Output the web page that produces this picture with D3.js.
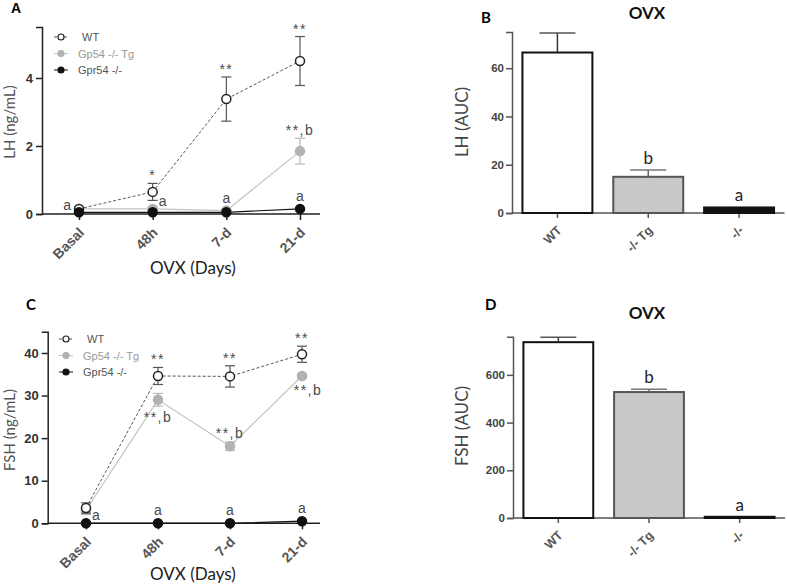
<!DOCTYPE html>
<html><head><meta charset="utf-8">
<script src="https://cdn.jsdelivr.net/npm/d3@7"></script>
<style>
body{margin:0;background:#fff}
svg text{font-family:"Liberation Sans",Arial,sans-serif}
svg .cal{font-family:Lato,"Open Sans",sans-serif}
</style></head><body>
<svg id="fig" width="787" height="585"></svg>
<script>
// time course panels (A: LH, C: FSH)
const timepoints = ['Basal', '48h', '7-d', '21-d'];
const seriesNames = ['WT', 'Gp54 -/- Tg', 'Gpr54 -/-'];

const lhWT = [0.15, 0.65, 3.38, 4.5];
const lhWTErr = [0.05, 0.25, 0.65, 0.72];
const lhTg = [0.15, 0.15, 0.1, 1.85];
const lhTgErr = [0.04, 0.04, 0.04, 0.38];
const lhKO = [0.05, 0.05, 0.05, 0.15];
const lhKOErr = [0, 0, 0, 0];

const fshWT = [3.6, 34.6, 34.5, 39.7];
const fshWTErr = [1.2, 2.0, 2.5, 1.9];
const fshTg = [3.1, 29.0, 18.1, 34.6];
const fshTgErr = [1.0, 1.5, 1.0, 0.5];
const fshKO = [0, 0, 0, 0.5];
const fshKOErr = [0, 0, 0, 0];

// AUC panels (B: LH, D: FSH)
const groups = ['WT', '-/- Tg', '-/-'];
const lhAUC = [66.5, 15.0, 2.3];
const lhAUCErr = [8.1, 2.8, 0];
const fshAUC = [737, 528, 5];
const fshAUCErr = [21, 12, 0];

const lhTicks = [0, 2, 4];
const fshTicks = [0, 10, 20, 30, 40];
const lhAUCTicks = [0, 20, 40, 60];
const fshAUCTicks = [0, 200, 400, 600];

// significance marks: [series, time index, text, placement]
const lhNotes = [
  ['WT', 1, '*', 'above'], ['WT', 2, '**', 'above'], ['WT', 3, '**', 'above'],
  ['Tg', 3, '**,b', 'above'],
  ['WT', 0, 'a', 'left'], ['Tg', 1, 'a', 'right'], ['Tg', 2, 'a', 'above'], ['KO', 3, 'a', 'above'],
];
const fshNotes = [
  ['WT', 1, '**', 'above'], ['WT', 2, '**', 'above'], ['WT', 3, '**', 'above'],
  ['Tg', 1, '**,b', 'below'], ['Tg', 2, '**,b', 'above'], ['Tg', 3, '**,b', 'belowRight'],
  ['KO', 0, 'a', 'right'], ['KO', 1, 'a', 'above'], ['KO', 2, 'a', 'above'], ['KO', 3, 'a', 'above'],
];
const lhAUCNotes = ['', 'b', 'a'];
const fshAUCNotes = ['', 'b', 'a'];

const svg = d3.select('#fig');

const STYLE = {
  WT: { line: '#555', dash: '3,2', fill: '#fff', stroke: '#222', err: '#555' },
  Tg: { line: '#c4c4c4', dash: null, fill: '#b2b2b2', stroke: '#b2b2b2', err: '#b8b8b8' },
  KO: { line: '#111', dash: null, fill: '#111', stroke: '#111', err: '#111' },
};

function linePanel(o) {
  const g = svg.append('g');
  const x = d3.scalePoint().domain(timepoints).range(o.xr);
  const y = d3.scaleLinear().domain([0, o.ymax]).range(o.yr);
  const keys = ['WT', 'Tg', 'KO'];

  // y axis
  const ya = g.append('g').attr('transform', `translate(${o.axX},0)`)
    .call(d3.axisLeft(y).tickValues(o.ticks).tickFormat(d3.format('d'))
      .tickSizeOuter(0).tickSize(6).tickPadding(3));
  ya.select('.domain').attr('stroke', '#222').attr('stroke-width', 1.5);
  ya.selectAll('.tick line').attr('stroke', '#222').attr('stroke-width', 1.5);
  ya.selectAll('.tick text').attr('font-size', 13).attr('font-weight', 'bold').attr('fill', '#333');

  // x axis
  const xa = g.append('g').attr('transform', `translate(0,${y(0)})`)
    .call(d3.axisBottom(x).tickSize(6).tickSizeOuter(0));
  xa.select('.domain').remove();
  xa.append('line').attr('x1', o.axX).attr('x2', o.axEnd).attr('stroke', '#222').attr('stroke-width', 1.5);
  xa.selectAll('.tick line').attr('stroke', '#222').attr('stroke-width', 1.5);
  xa.selectAll('.tick text')
    .attr('x', 0).attr('y', 0).attr('dy', '0.35em')
    .attr('text-anchor', 'end')
    .attr('transform', 'translate(2,16) rotate(-45)')
    .attr('font-size', 14).attr('font-weight', 'bold').attr('fill', '#555');

  const line = d3.line().x((d, i) => x(timepoints[i])).y(d => y(d));
  keys.forEach(k => {
    g.append('path').datum(o.data[k][0])
      .attr('d', line).attr('fill', 'none')
      .attr('stroke', STYLE[k].line).attr('stroke-width', k === 'WT' ? 1 : 1.2)
      .attr('stroke-dasharray', STYLE[k].dash);
  });
  ['Tg', 'WT', 'KO'].forEach(k => {
    const [vals, errs] = o.data[k];
    const eg = g.append('g').attr('stroke', STYLE[k].err).attr('stroke-width', 1.2);
    vals.forEach((v, i) => {
      const e = errs[i];
      if (!e) return;
      const cx = x(timepoints[i]);
      eg.append('line').attr('x1', cx).attr('x2', cx).attr('y1', y(v - e)).attr('y2', y(v + e));
      [v - e, v + e].forEach(w => eg.append('line')
        .attr('x1', cx - 5).attr('x2', cx + 5).attr('y1', y(w)).attr('y2', y(w)));
    });
    g.append('g').selectAll('circle').data(vals).join('circle')
      .attr('cx', (d, i) => x(timepoints[i])).attr('cy', d => y(d)).attr('r', 4.5)
      .attr('fill', STYLE[k].fill).attr('stroke', STYLE[k].stroke).attr('stroke-width', 1.5);
  });

  // significance marks
  o.notes.forEach(([k, i, txt, pos]) => {
    const v = o.data[k][0][i], e = o.data[k][1][i];
    const cx = x(timepoints[i]);
    let tx = cx, ty, anchor = 'middle';
    if (pos === 'above') ty = Math.min(y(v + e), y(v) - 5) - 3;
    else if (pos === 'below') ty = y(v - e) + 16;
    else if (pos === 'belowRight') { ty = y(v - e) + 17; tx = cx + 6; }
    else if (pos === 'left') { tx = cx - 8; ty = y(v) + 1; anchor = 'end'; }
    else { tx = cx + 6; ty = y(v) - 3; anchor = 'start'; }
    g.append('text').attr('x', tx).attr('y', ty).attr('text-anchor', anchor)
      .attr('font-size', 14).attr('fill', '#4a4a4a').attr('letter-spacing', txt.includes('*') ? 1.5 : 0)
      .text(txt);
  });

  // legend
  const lg = g.append('g');
  keys.forEach((k, i) => {
    const ly = o.legY + i * 16.5;
    lg.append('line').attr('x1', o.legX - 7).attr('x2', o.legX + 7).attr('y1', ly).attr('y2', ly)
      .attr('stroke', STYLE[k].line).attr('stroke-width', 1).attr('stroke-dasharray', STYLE[k].dash);
    lg.append('circle').attr('cx', o.legX).attr('cy', ly).attr('r', 3)
      .attr('fill', STYLE[k].fill).attr('stroke', STYLE[k].stroke).attr('stroke-width', 1.2);
    lg.append('text').attr('x', o.legX + 17 + (i === 0 ? 4 : 0)).attr('y', ly + 4)
      .attr('font-size', 11).attr('fill', k === 'Tg' ? '#999' : '#555').text(seriesNames[i]);
  });

  g.append('text').attr('class', 'cal')
    .attr('transform', `translate(15,${o.yLabY}) rotate(-90)`)
    .attr('text-anchor', 'middle').attr('font-size', 15).attr('fill', '#555').text(o.yLabel);
  g.append('text').attr('class', 'cal').attr('x', 193).attr('y', o.xLabY)
    .attr('text-anchor', 'middle').attr('font-size', 17).attr('fill', '#222').text('OVX (Days)');
}

function barPanel(o) {
  const g = svg.append('g');
  const x = d3.scaleBand().domain(groups).range(o.xr).paddingInner(0.23).paddingOuter(0.115);
  const y = d3.scaleLinear().domain([0, o.ymax]).range(o.yr);

  const ya = g.append('g').attr('transform', `translate(${o.xr[0]},0)`)
    .call(d3.axisLeft(y).tickValues(o.ticks).tickSizeOuter(0).tickSize(6).tickPadding(2));
  ya.select('.domain').attr('stroke', '#555').attr('stroke-width', 1.5);
  ya.selectAll('.tick line').attr('stroke', '#555').attr('stroke-width', 1.5);
  ya.selectAll('.tick text').attr('font-size', 11.5).attr('font-weight', 'bold').attr('fill', '#444');

  const xa = g.append('g').attr('transform', `translate(0,${y(0)})`)
    .call(d3.axisBottom(x).tickSize(5).tickSizeOuter(0));
  xa.select('.domain').remove();
  xa.append('line').attr('x1', o.xr[0]).attr('x2', o.xr[1]).attr('stroke', '#555').attr('stroke-width', 1.5);
  xa.selectAll('.tick line').attr('stroke', '#555').attr('stroke-width', 1.5);
  xa.selectAll('.tick text')
    .attr('x', 0).attr('y', 0).attr('dy', '0.35em')
    .attr('text-anchor', 'end')
    .attr('transform', 'translate(2,15) rotate(-45)')
    .attr('font-size', 12.5).attr('font-weight', 'bold').attr('fill', '#555');

  const fills = ['#fff', '#c8c8c8', '#111'];
  const strokes = ['#111', '#555', '#111'];
  g.selectAll('rect.bar').data(o.values).join('rect').attr('class', 'bar')
    .attr('x', (d, i) => x(groups[i])).attr('width', x.bandwidth())
    .attr('y', d => y(d)).attr('height', d => y(0) - y(d))
    .attr('fill', (d, i) => fills[i]).attr('stroke', (d, i) => strokes[i]).attr('stroke-width', 2);

  o.values.forEach((v, i) => {
    const e = o.errs[i];
    const cx = x(groups[i]) + x.bandwidth() / 2;
    if (e) {
      g.append('line').attr('x1', cx).attr('x2', cx).attr('y1', y(v)).attr('y2', y(v + e))
        .attr('stroke', i === 0 ? '#333' : '#666').attr('stroke-width', 1.5);
      g.append('line').attr('x1', cx - 18).attr('x2', cx + 18).attr('y1', y(v + e)).attr('y2', y(v + e))
        .attr('stroke', i === 0 ? '#555' : '#777').attr('stroke-width', 1.5);
    }
    if (o.notes[i]) {
      g.append('text').attr('class', 'cal').attr('x', cx).attr('y', y(v + e) - 6)
        .attr('text-anchor', 'middle').attr('font-size', 17).attr('fill', '#222').text(o.notes[i]);
    }
  });

  g.append('text').attr('class', 'cal')
    .attr('transform', `translate(468,${o.yLabY}) rotate(-90)`)
    .attr('text-anchor', 'middle').attr('font-size', 17).attr('fill', '#444').text(o.yLabel);
  g.append('text').attr('class', 'cal').attr('x', 647).attr('y', o.titleY)
    .attr('text-anchor', 'middle').attr('font-size', 17).attr('font-weight', 'bold').attr('fill', '#111').text('OVX');
}

linePanel({
  xr: [79, 300], yr: [214, 27], ymax: 5.5, axX: 42, axEnd: 320, ticks: lhTicks,
  data: { WT: [lhWT, lhWTErr], Tg: [lhTg, lhTgErr], KO: [lhKO, lhKOErr] },
  notes: lhNotes, legX: 61, legY: 37, yLabel: 'LH (ng/mL)', yLabY: 122, xLabY: 274,
});
linePanel({
  xr: [86, 302], yr: [523.3, 331.7], ymax: 45, axX: 47.7, axEnd: 320, ticks: fshTicks,
  data: { WT: [fshWT, fshWTErr], Tg: [fshTg, fshTgErr], KO: [fshKO, fshKOErr] },
  notes: fshNotes, legX: 66, legY: 339, yLabel: 'FSH (ng/mL)', yLabY: 430, xLabY: 580,
});
barPanel({
  xr: [512, 784.5], yr: [213, 32], ymax: 75, ticks: lhAUCTicks,
  values: lhAUC, errs: lhAUCErr, notes: lhAUCNotes, yLabel: 'LH (AUC)', yLabY: 122, titleY: 19,
});
barPanel({
  xr: [513, 785], yr: [518, 336.7], ymax: 760, ticks: fshAUCTicks,
  values: fshAUC, errs: fshAUCErr, notes: fshAUCNotes, yLabel: 'FSH (AUC)', yLabY: 426, titleY: 319,
});

// panel letters
svg.append('text').attr('x', 11).attr('y', 13).attr('font-size', 14).attr('font-weight', 'bold').text('A');
svg.append('text').attr('class', 'cal').attr('x', 481).attr('y', 23).attr('font-size', 15).attr('font-weight', 'bold').text('B');
svg.append('text').attr('class', 'cal').attr('x', 26).attr('y', 310).attr('font-size', 15).attr('font-weight', 'bold').text('C');
svg.append('text').attr('class', 'cal').attr('x', 485).attr('y', 310).attr('font-size', 15).attr('font-weight', 'bold').text('D');
</script>
</body></html>
